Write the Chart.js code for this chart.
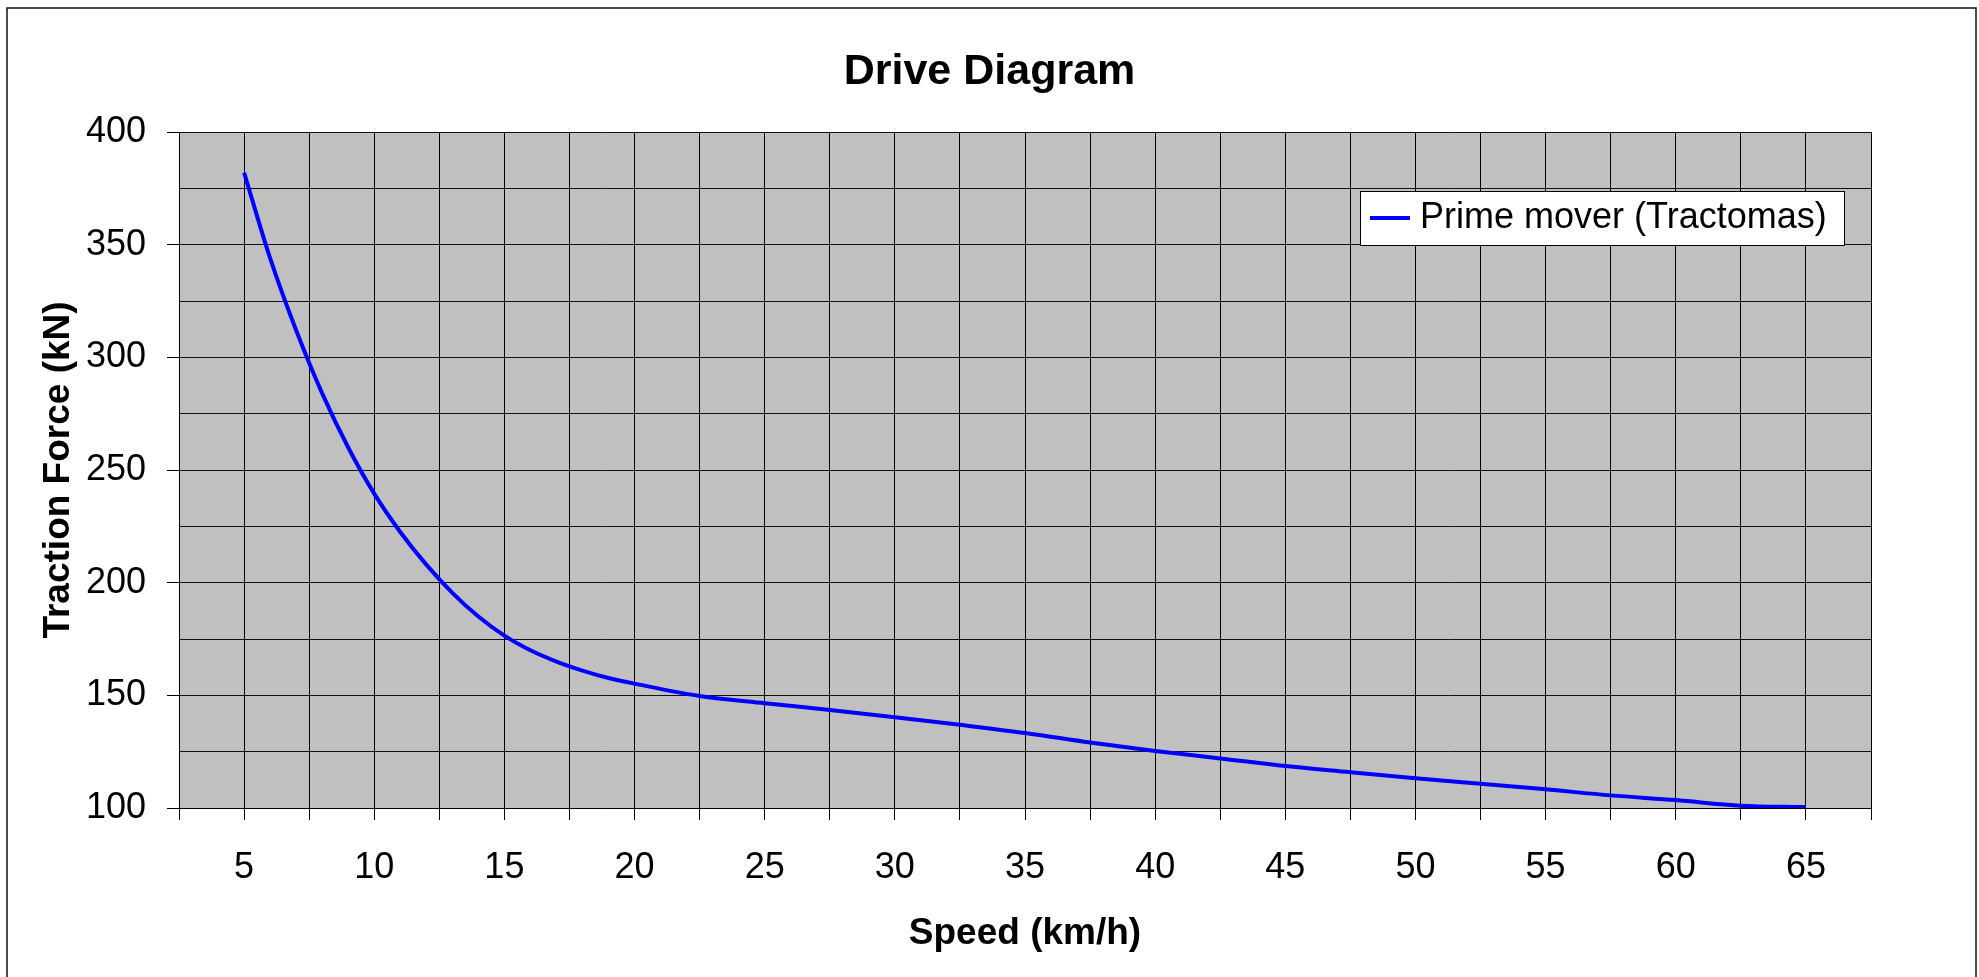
<!DOCTYPE html>
<html>
<head>
<meta charset="utf-8">
<title>Drive Diagram</title>
<script src="https://cdn.jsdelivr.net/npm/chart.js@4"></script>
<style>
  body { margin: 0; background: #fff; }
  canvas { display: block; }
</style>
</head>
<body>
<canvas id="driveChart" width="1979" height="977"></canvas>
<script>
// speed in km/h, traction force in kN
const speeds = [5, 6, 7, 8, 9, 10, 11, 12, 13, 14, 15, 16, 17, 18, 19, 20,
  22.5, 25, 27.5, 30, 32.5, 35, 37.5, 40, 42.5, 45, 47.5, 50, 52.5, 55, 57.5, 60, 62.5, 65];
const tractionForce = [382, 344, 312, 284, 260, 239.5, 222.5, 208, 195.5, 185, 176.5, 170, 165, 161, 157.7, 155.2,
  149.7, 146.5, 143.5, 140.3, 136.9, 133.3, 129.1, 125.3, 122, 118.6, 115.9, 113.2, 110.8, 108.3, 105.6, 103.5, 101, 100.4];
const seriesLabel = 'Prime mover (Tractomas)';
const xLabelEvery = 5;
const yLabelEvery = 50;

Chart.defaults.font.family = "'Liberation Sans', Arial, sans-serif";
Chart.defaults.color = '#000';

const frame = {
  id: 'frame',
  beforeDraw(chart) {
    const { ctx, chartArea: a } = chart;
    ctx.save();
    ctx.fillStyle = '#fff';
    ctx.fillRect(0, 0, chart.width, chart.height);
    ctx.strokeStyle = '#111';
    ctx.lineWidth = 1.5;
    ctx.strokeRect(7, 8, 1969, 1000);
    ctx.fillStyle = '#c0c0c0';
    ctx.fillRect(a.left, a.top, a.right - a.left, a.bottom - a.top);
    ctx.restore();
  }
};

const legendBox = {
  id: 'legendBox',
  afterDraw(chart) {
    const { ctx } = chart;
    const ds = chart.data.datasets[0];
    ctx.save();
    ctx.fillStyle = '#fff';
    ctx.fillRect(1360, 191, 484, 54);
    ctx.strokeStyle = '#000';
    ctx.lineWidth = 1;
    ctx.strokeRect(1360.5, 191.5, 484, 54);
    ctx.strokeStyle = ds.borderColor;
    ctx.lineWidth = 4;
    ctx.beginPath();
    ctx.moveTo(1370, 218);
    ctx.lineTo(1410, 218);
    ctx.stroke();
    ctx.fillStyle = '#000';
    ctx.font = "36px 'Liberation Sans', Arial, sans-serif";
    ctx.textBaseline = 'middle';
    ctx.fillText(ds.label, 1420, 218);
    ctx.restore();
  }
};

new Chart(document.getElementById('driveChart'), {
  type: 'line',
  data: {
    datasets: [{
      label: seriesLabel,
      data: speeds.map((s, i) => ({ x: s, y: tractionForce[i] })),
      borderColor: '#0000ff',
      borderWidth: 4,
      pointRadius: 0,
      cubicInterpolationMode: 'monotone',
      fill: false
    }]
  },
  options: {
    responsive: false,
    animation: false,
    devicePixelRatio: 1,
    layout: { padding: 0 },
    plugins: {
      legend: { display: false },
      tooltip: { enabled: false },
      title: {
        display: true,
        text: 'Drive Diagram',
        font: { size: 43, weight: 'bold' },
        color: '#000',
        padding: { top: 46, bottom: 34.4 }
      }
    },
    scales: {
      x: {
        type: 'linear',
        min: 2.5,
        max: 67.5,
        afterFit(scale) { scale.height = 169; },
        ticks: {
          stepSize: 2.5,
          autoSkip: false,
          maxRotation: 0,
          padding: 26,
          font: { size: 36 },
          color: '#000',
          callback: v => (v % xLabelEvery === 0 ? String(v) : '')
        },
        grid: { color: '#000', lineWidth: 1, tickLength: 12, tickColor: '#000' },
        border: { color: '#000', width: 1 },
        title: {
          display: true,
          text: 'Speed (km/h)',
          font: { size: 37, weight: 'bold' },
          color: '#000',
          padding: { top: 0, bottom: 21 }
        }
      },
      y: {
        min: 100,
        max: 400,
        afterFit(scale) { scale.width = 179; },
        ticks: {
          stepSize: 25,
          autoSkip: false,
          padding: 21,
          font: { size: 36 },
          color: '#000',
          callback: v => (v % yLabelEvery === 0 ? String(v) : '')
        },
        grid: {
          color: '#111',
          lineWidth: 1,
          tickLength: 12,
          tickColor: ctx => (ctx.tick && ctx.tick.value % yLabelEvery === 0 ? '#000' : 'rgba(0,0,0,0)')
        },
        border: { color: '#000', width: 1 },
        title: {
          display: true,
          text: 'Traction Force (kN)',
          font: { size: 37, weight: 'bold' },
          color: '#000',
          padding: { top: 37, bottom: 0 }
        }
      },
      // empty right-hand axis: keeps the white margin right of the plot
      spacer: {
        type: 'linear',
        position: 'right',
        display: true,
        afterFit(scale) { scale.width = 108; },
        ticks: { display: false },
        grid: { display: false, drawTicks: false },
        border: { display: false }
      }
    }
  },
  plugins: [frame, legendBox]
});
</script>
</body>
</html>
